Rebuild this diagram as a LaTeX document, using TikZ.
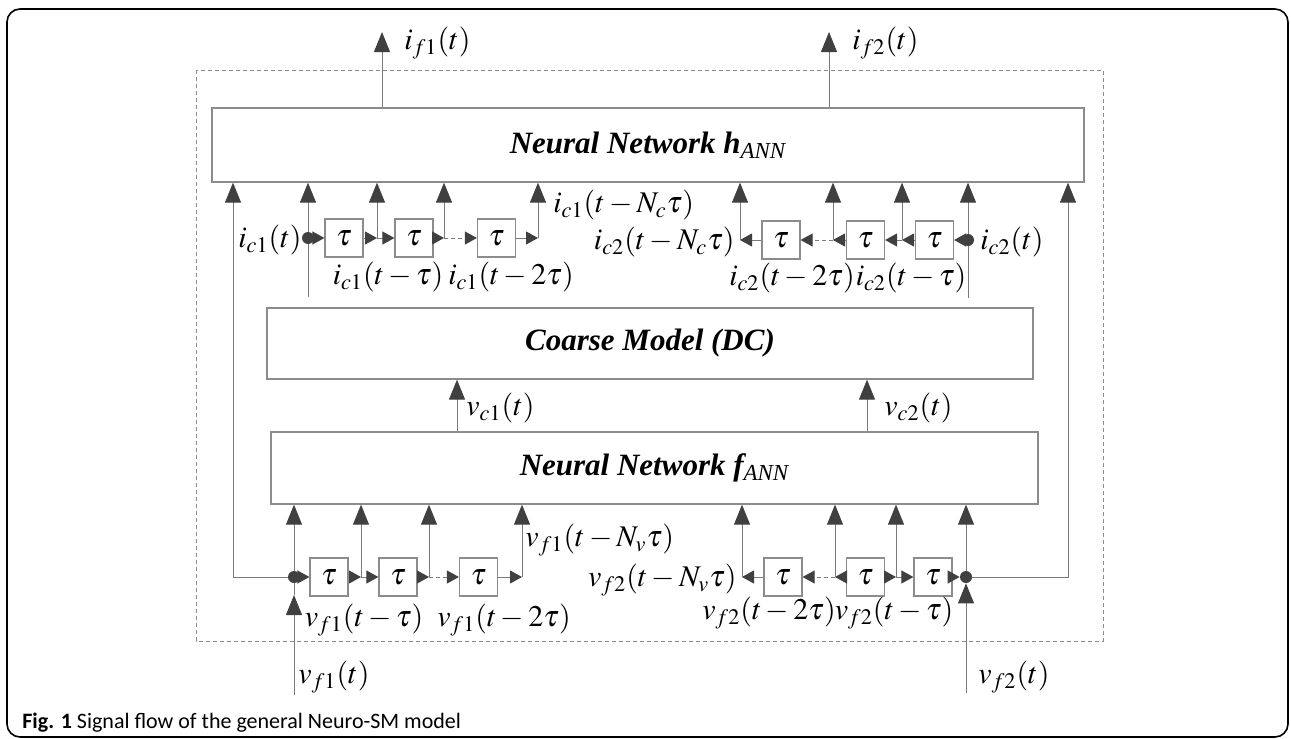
\documentclass[tikz,border=0pt]{standalone}
\usepackage{mathptmx}
\usepackage{fontspec}
\setmainfont{Liberation Serif}
\newfontfamily\capfont{Carlito}
\usetikzlibrary{arrows.meta}
\definecolor{linegray}{HTML}{7A7A7A}
\definecolor{tipgray}{HTML}{404040}
\definecolor{boxgray}{HTML}{8C8C8C}

\begin{document}
\begin{tikzpicture}[
    x=0.5pt, y=-0.5pt,
    every node/.style={inner sep=0pt},
    block/.style={draw=boxgray, line width=0.65pt, font=\fontsize{15.5}{18}\selectfont\bfseries\itshape},
    delay/.style={draw=boxgray, line width=0.6pt, minimum size=19pt, font=\fontsize{15}{17}\selectfont},
    lbl/.style={font=\fontsize{15}{17}\selectfont},
    flow/.style={draw=linegray, line width=0.5pt, -{Triangle[length=10pt,width=8pt,color=tipgray]}},
    chain/.style={draw=linegray, line width=0.5pt, -{Triangle[length=6pt,width=6.5pt,color=tipgray]}},
    link/.style={draw=linegray, line width=0.5pt},
    junc/.style={circle, fill=tipgray, minimum size=6pt}
]
\useasboundingbox (0,0) rectangle (1291,739);
\draw[black, line width=0.8pt, rounded corners=6.5pt] (7,9) rectangle (1288,737);
\draw[boxgray, line width=0.5pt, dash pattern=on 2pt off 1.5pt] (196,70) rectangle (1103,641);

% main blocks
\node[block, minimum width=436pt, minimum height=37pt] (hnet) at (648,145)
    {Neural Network h\textsubscript{\normalfont\itshape ANN}};
\node[block, minimum width=383pt, minimum height=35.5pt] (coarse) at (650,343.5) {Coarse Model (DC)};
\node[block, minimum width=383.5pt, minimum height=36pt] (fnet) at (654.5,468)
    {Neural Network f\textsubscript{\normalfont\itshape ANN}};

% outputs
\coordinate (if1) at (382,32);
\coordinate (if2) at (829,32);
\draw[flow] (if1 |- hnet.north) -- (if1);
\draw[flow] (if2 |- hnet.north) -- (if2);
\node[lbl, anchor=west] (if1lbl) at (404,43) {$i_{f1}(t)$};
\node[lbl, anchor=west] (if2lbl) at (852,43) {$i_{f2}(t)$};

% coarse model inputs
\coordinate (vc1) at (457,400);
\coordinate (vc2) at (867,400);
\draw[flow] (vc1 |- fnet.north) -- (vc1 |- coarse.south);
\draw[flow] (vc2 |- fnet.north) -- (vc2 |- coarse.south);
\node[lbl, anchor=west] (vc1lbl) at (466,408) {$v_{c1}(t)$};
\node[lbl, anchor=west] (vc2lbl) at (884,408) {$v_{c2}(t)$};

% delay line i_c1
\node[junc] (ic1) at (308,238) {};
\coordinate (ic1in) at (308,297);
\node[delay] (ta1) at (344,238) {$\tau$};
\node[delay] (ta2) at (414,238) {$\tau$};
\node[delay] (ta3) at (496.5,238) {$\tau$};
\coordinate (jta1) at (377,238);
\coordinate (jta2) at (444,238);
\coordinate (jta3) at (538,238);
\draw[link] (ic1in) -- (ic1.south);
\draw[flow] (ic1.north) -- (ic1 |- hnet.south);
\draw[chain] (ic1) -- (ta1);
\draw[chain] (ta1) -- (jta1);
\draw[chain] (jta1) -- (ta2);
\draw[chain] (ta2) -- (jta2);
\draw[chain, dash pattern=on 2pt off 1.5pt] (jta2) -- (ta3);
\draw[chain] (ta3) -- (jta3);
\draw[flow] (jta1) -- (jta1 |- hnet.south);
\draw[flow] (jta2) -- (jta2 |- hnet.south);
\draw[flow] (jta3) -- (jta3 |- hnet.south);
\node[lbl, anchor=east] (ic1lbl) at (302,240) {$i_{c1}(t)$};
\node[lbl] (ta1lbl) at (388,277) {$i_{c1}(t-\tau)$};
\node[lbl] (ta2lbl) at (511,277) {$i_{c1}(t-2\tau)$};
\node[lbl, anchor=west] (ta3lbl) at (553,205) {$i_{c1}(t-N_c\tau)$};

% delay line i_c2
\node[junc] (ic2) at (968,240) {};
\coordinate (ic2in) at (968,298);
\node[delay] (tb1) at (934.5,240) {$\tau$};
\node[delay] (tb2) at (865.5,240) {$\tau$};
\node[delay] (tb3) at (781,240) {$\tau$};
\coordinate (jtb1) at (902,240);
\coordinate (jtb2) at (833,240);
\coordinate (jtb3) at (740,240);
\draw[link] (ic2in) -- (ic2.south);
\draw[flow] (ic2.north) -- (ic2 |- hnet.south);
\draw[chain] (ic2) -- (tb1);
\draw[chain] (tb1) -- (jtb1);
\draw[chain] (jtb1) -- (tb2);
\draw[chain] (tb2) -- (jtb2);
\draw[chain, dash pattern=on 2pt off 1.5pt] (jtb2) -- (tb3);
\draw[chain] (tb3) -- (jtb3);
\draw[flow] (jtb1) -- (jtb1 |- hnet.south);
\draw[flow] (jtb2) -- (jtb2 |- hnet.south);
\draw[flow] (jtb3) -- (jtb3 |- hnet.south);
\node[lbl, anchor=west] (ic2lbl) at (980,242) {$i_{c2}(t)$};
\node[lbl] (tb1lbl) at (911,278) {$i_{c2}(t-\tau)$};
\node[lbl] (tb2lbl) at (792,278) {$i_{c2}(t-2\tau)$};
\node[lbl, anchor=east] (tb3lbl) at (735,242) {$i_{c2}(t-N_c\tau)$};

% delay line v_f1
\node[junc] (vf1) at (294,577) {};
\coordinate (vf1in) at (294,695);
\coordinate (vf1tip) at (294,595);
\coordinate (lcorner) at (233,577);
\node[delay] (ba1) at (329,577) {$\tau$};
\node[delay] (ba2) at (398,577) {$\tau$};
\node[delay] (ba3) at (478.5,577) {$\tau$};
\coordinate (jba1) at (361,577);
\coordinate (jba2) at (429,577);
\coordinate (jba3) at (522,577);
\draw[flow] (vf1in) -- (vf1tip);
\draw[link] (vf1tip) -- (vf1.south);
\draw[flow] (vf1.north) -- (vf1 |- fnet.south);
\draw[flow] (vf1.west) -- (lcorner) -- (lcorner |- hnet.south);
\draw[chain] (vf1) -- (ba1);
\draw[chain] (ba1) -- (jba1);
\draw[chain] (jba1) -- (ba2);
\draw[chain] (ba2) -- (jba2);
\draw[chain, dash pattern=on 2pt off 1.5pt] (jba2) -- (ba3);
\draw[chain] (ba3) -- (jba3);
\draw[flow] (jba1) -- (jba1 |- fnet.south);
\draw[flow] (jba2) -- (jba2 |- fnet.south);
\draw[flow] (jba3) -- (jba3 |- fnet.south);
\node[lbl, anchor=west] (vf1lbl) at (298,677) {$v_{f1}(t)$};
\node[lbl] (ba1lbl) at (364,620) {$v_{f1}(t-\tau)$};
\node[lbl] (ba2lbl) at (504,620) {$v_{f1}(t-2\tau)$};
\node[lbl, anchor=west] (ba3lbl) at (525,540) {$v_{f1}(t-N_v\tau)$};

% delay line v_f2
\node[junc] (vf2) at (966,577) {};
\coordinate (vf2in) at (966,693);
\coordinate (rcorner) at (1068,577);
\node[delay] (bb1) at (933,577) {$\tau$};
\node[delay] (bb2) at (865.5,577) {$\tau$};
\node[delay] (bb3) at (783,577) {$\tau$};
\coordinate (jbb1) at (896,577);
\coordinate (jbb2) at (835,577);
\coordinate (jbb3) at (742,577);
\draw[flow] (vf2in) -- (vf2.south);
\draw[flow] (vf2.north) -- (vf2 |- fnet.south);
\draw[flow] (vf2.east) -- (rcorner) -- (rcorner |- hnet.south);
\draw[chain] (bb1) -- (vf2);
\draw[chain] (bb2) -- (jbb1);
\draw[chain] (jbb1) -- (bb1);
\draw[chain] (bb2) -- (jbb2);
\draw[chain, dash pattern=on 2pt off 1.5pt] (jbb2) -- (bb3);
\draw[chain] (bb3) -- (jbb3);
\draw[flow] (jbb1) -- (jbb1 |- fnet.south);
\draw[flow] (jbb2) -- (jbb2 |- fnet.south);
\draw[flow] (jbb3) -- (jbb3 |- fnet.south);
\node[lbl, anchor=west] (vf2lbl) at (978,677) {$v_{f2}(t)$};
\node[lbl] (bb1lbl) at (894,613) {$v_{f2}(t-\tau)$};
\node[lbl] (bb2lbl) at (769,613) {$v_{f2}(t-2\tau)$};
\node[lbl, anchor=east] (bb3lbl) at (737,580) {$v_{f2}(t-N_v\tau)$};

% caption
\node[anchor=west, font=\capfont\fontsize{11}{13}\selectfont] (caption) at (22,723)
    {\textbf{Fig. 1} Signal flow of the general Neuro-SM model};
\end{tikzpicture}
\end{document}
